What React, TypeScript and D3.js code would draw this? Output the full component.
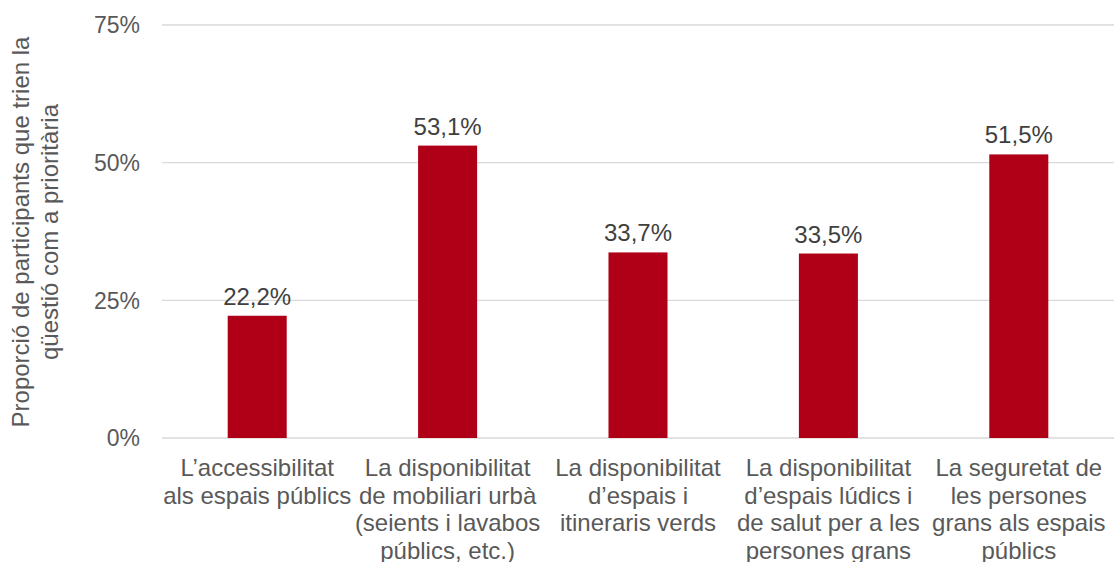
import React, { useEffect, useRef } from 'react';
import * as d3 from 'd3';

// categories, already broken into the lines the original shows
const categories: string[][] = [
  ['L’accessibilitat', 'als espais públics'],
  ['La disponibilitat', 'de mobiliari urbà', '(seients i lavabos', 'públics, etc.)'],
  ['La disponibilitat', 'd’espais i', 'itineraris verds'],
  ['La disponibilitat', 'd’espais lúdics i', 'de salut per a les', 'persones grans'],
  ['La seguretat de', 'les persones', 'grans als espais', 'públics'],
];
const values = [22.2, 53.1, 33.7, 33.5, 51.5];
const yTicks = [0, 25, 50, 75];
const yTitle = ['Proporció de participants que trien la', 'qüestió com a prioritària'];

const W = 1114;
const H = 562;
const FONT = '"Liberation Sans", Arial, sans-serif';
const TEXT = '#595959';
const BAR = '#B00018';

const App = () => {
  const ref = useRef<SVGSVGElement>(null);

  useEffect(() => {
    const svg = d3.select(ref.current);
    svg.selectAll('*').remove();

    const x = d3.scaleBand<number>()
      .domain(d3.range(categories.length))
      .range([162, 1114])
      .padding(0);
    const y = d3.scaleLinear().domain([0, 75]).range([438, 25]);
    const barW = x.bandwidth() * 0.31;

    // gridlines
    svg.append('g')
      .selectAll('line')
      .data(yTicks)
      .enter().append('line')
      .attr('x1', 162)
      .attr('x2', 1114)
      .attr('y1', d => y(d))
      .attr('y2', d => y(d))
      .style('stroke', '#d9d9d9')
      .style('stroke-width', 1.3);

    // tick labels
    svg.append('g')
      .selectAll('text')
      .data(yTicks)
      .enter().append('text')
      .attr('x', 140)
      .attr('y', d => y(d))
      .attr('dy', '0.36em')
      .attr('text-anchor', 'end')
      .style('font-family', FONT)
      .style('font-size', '23px')
      .style('fill', TEXT)
      .text(d => d + '%');

    // bars
    svg.append('g')
      .selectAll('rect')
      .data(values)
      .enter().append('rect')
      .attr('x', (d, i) => (x(i) as number) + x.bandwidth() / 2 - barW / 2)
      .attr('width', barW)
      .attr('y', d => y(d))
      .attr('height', d => y(0) - y(d))
      .style('fill', BAR);

    // value labels
    svg.append('g')
      .selectAll('text')
      .data(values)
      .enter().append('text')
      .attr('x', (d, i) => (x(i) as number) + x.bandwidth() / 2)
      .attr('y', d => y(d) - 11)
      .attr('text-anchor', 'middle')
      .style('font-family', FONT)
      .style('font-size', '24px')
      .style('fill', '#404040')
      .text(d => d3.format('.1f')(d).replace('.', ',') + '%');

    // category labels
    const cats = svg.append('g')
      .selectAll('text')
      .data(categories)
      .enter().append('text')
      .attr('text-anchor', 'middle')
      .style('font-family', FONT)
      .style('font-size', '24px')
      .style('fill', TEXT);
    cats.each(function (lines, i) {
      const t = d3.select(this);
      const cx = (x(i) as number) + x.bandwidth() / 2;
      lines.forEach((l, j) => {
        t.append('tspan').attr('x', cx).attr('y', 476 + j * 27.5).text(l);
      });
    });

    // y axis title
    const title = svg.append('text')
      .attr('transform', 'translate(0,232) rotate(-90)')
      .attr('text-anchor', 'middle')
      .style('font-family', FONT)
      .style('font-size', '24px')
      .style('fill', TEXT);
    yTitle.forEach((l, j) => {
      title.append('tspan').attr('x', 0).attr('y', 29 + j * 29).text(l);
    });
  }, []);

  return (
    <svg
      ref={ref}
      width={W}
      height={H}
      style={{ position: 'absolute', left: 0, top: 0, background: '#fff' }}
    />
  );
};

export default App;
